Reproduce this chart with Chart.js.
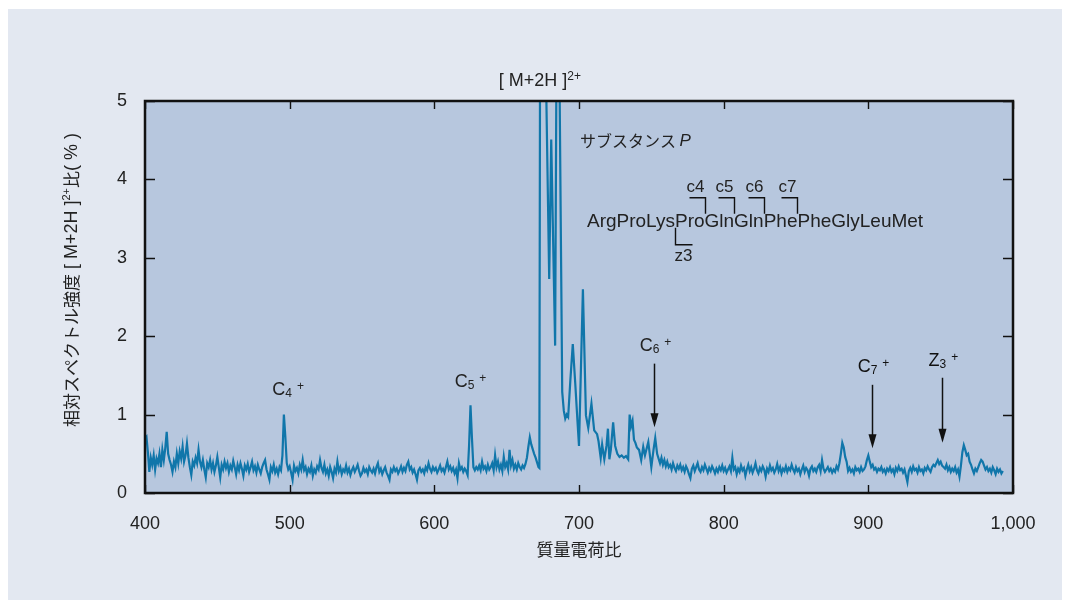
<!DOCTYPE html>
<html>
<head>
<meta charset="utf-8">
<script src="https://cdn.jsdelivr.net/npm/chart.js@4/dist/chart.umd.min.js"></script>
<style>
  html, body { margin: 0; padding: 0; background: #ffffff; }
  #wrap { width: 1070px; height: 609px; }
</style>
</head>
<body>
<div id="wrap"><canvas id="myChart" width="1070" height="609"></canvas></div>
<script>
// m/z 400-499, step 1
const intensity400 = [
  0.70, 0.72, 0.52, 0.27, 0.45, 0.36, 0.48, 0.30, 0.44, 0.38,
  0.50, 0.33, 0.55, 0.42, 0.57, 0.78, 0.50, 0.42, 0.36, 0.27,
  0.40, 0.33, 0.50, 0.38, 0.53, 0.44, 0.59, 0.40, 0.48, 0.63,
  0.45, 0.33, 0.23, 0.40, 0.35, 0.45, 0.38, 0.55, 0.40, 0.33,
  0.42, 0.30, 0.20, 0.38, 0.33, 0.42, 0.30, 0.38, 0.27, 0.35,
  0.46, 0.33, 0.20, 0.36, 0.30, 0.40, 0.32, 0.38, 0.27, 0.35,
  0.30, 0.41, 0.33, 0.24, 0.36, 0.29, 0.38, 0.31, 0.22, 0.35,
  0.30, 0.37, 0.27, 0.33, 0.40, 0.29, 0.34, 0.26, 0.36, 0.30,
  0.25, 0.33, 0.38, 0.42, 0.30, 0.24, 0.17, 0.33, 0.28, 0.36,
  0.26, 0.31, 0.24, 0.33, 0.29, 0.48, 1.00, 0.72, 0.38, 0.30
];
// m/z 500-599
const intensity500 = [
  0.34, 0.26, 0.17, 0.35, 0.28, 0.32, 0.25, 0.36, 0.30, 0.42,
  0.29, 0.33, 0.24, 0.31, 0.27, 0.35, 0.22, 0.30, 0.26, 0.34,
  0.30, 0.42, 0.32, 0.27, 0.36, 0.25, 0.30, 0.22, 0.33, 0.27,
  0.19, 0.31, 0.26, 0.40, 0.28, 0.33, 0.24, 0.30, 0.27, 0.35,
  0.26, 0.31, 0.23, 0.29, 0.33, 0.27, 0.31, 0.36, 0.28, 0.22,
  0.25, 0.32, 0.27, 0.30, 0.24, 0.33, 0.29, 0.26, 0.31, 0.25,
  0.33, 0.38, 0.27, 0.31, 0.24, 0.29, 0.33, 0.26, 0.22, 0.17,
  0.30, 0.27, 0.33, 0.28, 0.31, 0.25, 0.29, 0.34, 0.27, 0.32,
  0.28, 0.36, 0.40, 0.30, 0.33, 0.26, 0.30, 0.24, 0.17, 0.29,
  0.32, 0.27, 0.30, 0.25, 0.33, 0.29, 0.38, 0.31, 0.27, 0.33
];
// m/z 600-669
const intensity600 = [
  0.29, 0.32, 0.26, 0.30, 0.35, 0.28, 0.31, 0.26, 0.33, 0.40,
  0.30, 0.34, 0.28, 0.32, 0.25, 0.30, 0.19, 0.38, 0.30, 0.33,
  0.27, 0.31, 0.28, 0.23, 0.60, 1.12, 0.70, 0.33, 0.29, 0.33,
  0.30, 0.35, 0.29, 0.40, 0.31, 0.34, 0.28, 0.36, 0.30, 0.33,
  0.38, 0.29, 0.48, 0.33, 0.40, 0.30, 0.36, 0.28, 0.46, 0.33,
  0.38, 0.30, 0.55, 0.35, 0.42, 0.31, 0.36, 0.30, 0.38, 0.33,
  0.30, 0.35, 0.32, 0.37, 0.45, 0.59, 0.71, 0.62, 0.56, 0.50
];
// [M+2H]2+ region, uneven sampling
const peakMz = [
  670, 671, 672, 672.6, 673.2, 674.5, 675.8, 676.6, 679.4, 680.8,
  683.5, 684.8, 685.5, 686.2, 688.4, 689.5, 690.5, 691.5, 692.5, 694,
  695.7, 697.4, 699, 700, 702.7, 704.8, 706.4, 708.6, 710.5, 712.5,
  713.5, 715, 716, 717.5, 719, 720, 721, 722, 723.6, 725,
  726.5, 728, 729.5, 731, 732.5, 734, 735, 736, 737, 738,
  739, 740, 741.5, 743, 744.4, 745.6, 747.9, 750, 751.5, 752.7,
  754, 756, 757, 758, 759, 760
];
const peakIntensity = [
  0.45, 0.39, 0.33, 0.32, 7.0, 10.0, 9.0, 6.0, 2.73, 4.51,
  1.88, 7.0, 9.0, 6.0, 1.29, 1.05, 0.95, 1.00, 0.97, 1.43,
  1.90, 1.40, 0.90, 0.60, 2.60, 0.99, 0.83, 1.14, 0.80, 0.75,
  0.66, 0.45, 0.62, 0.43, 0.60, 0.82, 0.43, 0.55, 0.90, 0.60,
  0.50, 0.46, 0.48, 0.45, 0.47, 0.43, 1.00, 0.85, 0.92, 0.68,
  0.64, 0.58, 0.55, 0.42, 0.59, 0.48, 0.65, 0.33, 0.55, 0.70,
  0.50, 0.38, 0.45, 0.36, 0.42, 0.34
];
// m/z 761-993
const intensity761 = [
  0.40, 0.33, 0.36, 0.30, 0.38, 0.32, 0.28, 0.35, 0.31, 0.36,
  0.29, 0.33, 0.27, 0.34, 0.30, 0.24, 0.19, 0.31, 0.35, 0.28,
  0.33, 0.38, 0.30, 0.27, 0.33, 0.29, 0.36, 0.31, 0.26, 0.32,
  0.28, 0.34, 0.30, 0.25, 0.31, 0.27, 0.33, 0.29, 0.35, 0.28,
  0.32, 0.26, 0.30, 0.34, 0.28, 0.45, 0.30, 0.33, 0.24, 0.31,
  0.27, 0.35, 0.29, 0.32, 0.22, 0.30, 0.36, 0.28, 0.33, 0.26,
  0.31, 0.38, 0.29, 0.25, 0.32, 0.28, 0.34, 0.30, 0.21, 0.31,
  0.27, 0.35, 0.29, 0.32, 0.26, 0.30, 0.37, 0.28, 0.33, 0.25,
  0.31, 0.28, 0.34, 0.27, 0.32, 0.29, 0.36, 0.30, 0.26, 0.33,
  0.28, 0.31, 0.24, 0.30, 0.35, 0.27, 0.32, 0.29, 0.22, 0.31,
  0.34, 0.28, 0.31, 0.27, 0.33, 0.36, 0.28, 0.42, 0.31, 0.27,
  0.30, 0.33, 0.28, 0.31, 0.26, 0.30, 0.27, 0.34, 0.30, 0.38,
  0.50, 0.64, 0.58, 0.46, 0.40, 0.28, 0.32, 0.27, 0.30, 0.25,
  0.33, 0.29, 0.31, 0.27, 0.33, 0.28, 0.30, 0.34, 0.42, 0.48,
  0.40, 0.33, 0.36, 0.30, 0.32, 0.27, 0.31, 0.29, 0.33, 0.27,
  0.30, 0.25, 0.31, 0.28, 0.33, 0.27, 0.30, 0.24, 0.32, 0.28,
  0.34, 0.29, 0.31, 0.26, 0.30, 0.22, 0.14, 0.28, 0.32, 0.27,
  0.34, 0.29, 0.31, 0.26, 0.33, 0.28, 0.30, 0.25, 0.32, 0.29,
  0.34, 0.30, 0.27, 0.33, 0.36, 0.34, 0.38, 0.42, 0.37, 0.40,
  0.35, 0.33, 0.31, 0.36, 0.29, 0.33, 0.27, 0.31, 0.28, 0.33,
  0.26, 0.30, 0.21, 0.35, 0.52, 0.61, 0.55, 0.48, 0.50, 0.40,
  0.36, 0.30, 0.25, 0.31, 0.28, 0.33, 0.38, 0.42, 0.40, 0.35,
  0.30, 0.33, 0.28, 0.31, 0.26, 0.33, 0.29, 0.24, 0.31, 0.27,
  0.30, 0.25, 0.28
];

const xTicks = [400, 500, 600, 700, 800, 900, 1000];
const yTicks = [0, 1, 2, 3, 4, 5];

// fragment labels: name, subscript, label x, label baseline y, arrow (or null)
const fragLabels = [
  { main: "C", sub: "4", x: 498.9, y: 1.25, arrow: null },
  { main: "C", sub: "5", x: 625.0, y: 1.35, arrow: null },
  { main: "C", sub: "6", x: 752.9, y: 1.81, arrow: { x: 752.0, from: 1.65, to: 0.84 } },
  { main: "C", sub: "7", x: 903.6, y: 1.54, arrow: { x: 902.5, from: 1.38, to: 0.57 } },
  { main: "Z", sub: "3", x: 951.9, y: 1.62, arrow: { x: 951.1, from: 1.47, to: 0.64 } }
];

const sequence = ["Arg", "Pro", "Lys", "Pro", "Gln", "Gln", "Phe", "Phe", "Gly", "Leu", "Met"];
const cBreaks = [{ name: "c4", after: 4 }, { name: "c5", after: 5 }, { name: "c6", after: 6 }, { name: "c7", after: 7 }];
const zBreak = { name: "z3", after: 3 };

const LATIN = "'Liberation Sans', Arial, sans-serif";
const CJK = "'Noto Sans CJK JP', sans-serif";
const TEXT = "#222222";
const SEQ_FONT = "19px " + LATIN;

function seg(start, vals) {
  return vals.map((v, i) => ({ x: start + i, y: v }));
}

const points = [].concat(
  seg(400, intensity400),
  seg(500, intensity500),
  seg(600, intensity600),
  peakMz.map((m, i) => ({ x: m, y: peakIntensity[i] })),
  seg(761, intensity761)
);

// draw a run of text pieces with own font / offset, centered on cx
function drawParts(ctx, parts, cx, cy) {
  let total = 0;
  parts.forEach((p) => {
    ctx.font = p.font;
    p.w = ctx.measureText(p.t).width;
    total += p.w + (p.gap || 0);
  });
  let x = cx - total / 2;
  parts.forEach((p) => {
    ctx.font = p.font;
    x += p.gap || 0;
    ctx.fillText(p.t, x, cy + (p.dy || 0));
    x += p.w;
  });
}

function arrowDown(ctx, x, y1, y2) {
  ctx.beginPath();
  ctx.moveTo(x, y1);
  ctx.lineTo(x, y2 - 10);
  ctx.lineWidth = 1.5;
  ctx.strokeStyle = "#111";
  ctx.stroke();
  ctx.beginPath();
  ctx.moveTo(x - 4, y2 - 14);
  ctx.lineTo(x + 4, y2 - 14);
  ctx.lineTo(x, y2);
  ctx.closePath();
  ctx.fillStyle = "#111";
  ctx.fill();
}

const backgroundPlugin = {
  id: "bg",
  beforeDraw(chart) {
    const { ctx, chartArea: a } = chart;
    ctx.save();
    ctx.fillStyle = "#ffffff";
    ctx.fillRect(0, 0, chart.width, chart.height);
    ctx.fillStyle = "#e3e8f1";
    ctx.fillRect(8, 9, 1054, 591);
    ctx.fillStyle = "#b7c7de";
    ctx.fillRect(a.left, a.top, a.right - a.left, a.bottom - a.top);
    ctx.restore();
  }
};

const annotationPlugin = {
  id: "notes",
  afterDraw(chart) {
    const { ctx, chartArea: a } = chart;
    const xs = chart.scales.x, ys = chart.scales.y;
    ctx.save();

    // frame + inward ticks
    ctx.strokeStyle = "#111";
    ctx.lineWidth = 1.4;
    xTicks.forEach((v) => {
      const px = Math.round(xs.getPixelForValue(v)) + 0.5;
      ctx.beginPath();
      ctx.moveTo(px, a.bottom); ctx.lineTo(px, a.bottom - 8);
      ctx.moveTo(px, a.top); ctx.lineTo(px, a.top + 8);
      ctx.stroke();
    });
    yTicks.forEach((v) => {
      const py = Math.round(ys.getPixelForValue(v)) + 0.5;
      ctx.beginPath();
      ctx.moveTo(a.left, py); ctx.lineTo(a.left + 10, py);
      ctx.moveTo(a.right, py); ctx.lineTo(a.right - 10, py);
      ctx.stroke();
    });
    ctx.lineWidth = 2.5;
    ctx.strokeRect(a.left, a.top, a.right - a.left, a.bottom - a.top);

    ctx.fillStyle = TEXT;
    ctx.textBaseline = "alphabetic";
    ctx.textAlign = "left";

    // title over the precursor peak
    drawParts(ctx, [
      { t: "[ M+2H ]", font: "18px " + LATIN },
      { t: "2+", font: "12px " + LATIN, dy: -6 }
    ], xs.getPixelForValue(673), a.top - 15);

    // fragment labels and arrows
    fragLabels.forEach((f) => {
      drawParts(ctx, [
        { t: f.main, font: "18px " + LATIN },
        { t: f.sub, font: "12px " + LATIN, dy: 2 },
        { t: "+", font: "12px " + LATIN, dy: -5, gap: 5 }
      ], xs.getPixelForValue(f.x), ys.getPixelForValue(f.y));
      if (f.arrow) {
        arrowDown(ctx, Math.round(xs.getPixelForValue(f.arrow.x)) + 0.5,
          ys.getPixelForValue(f.arrow.from), ys.getPixelForValue(f.arrow.to));
      }
    });

    // substance P
    ctx.fillStyle = TEXT;
    ctx.textBaseline = "middle";
    const sx = xs.getPixelForValue(700.7), sy = ys.getPixelForValue(4.49);
    ctx.font = "16px " + CJK;
    ctx.fillText("サブスタンス", sx, sy);
    const kw = ctx.measureText("サブスタンス ").width;
    ctx.font = "italic 17px " + LATIN;
    ctx.fillText("P", sx + kw, sy);

    const qx = xs.getPixelForValue(705.5), qy = ys.getPixelForValue(3.46);
    ctx.font = SEQ_FONT;
    ctx.fillText(sequence.join(""), qx, qy);
    ctx.strokeStyle = "#111";
    ctx.lineWidth = 1.4;
    const breakX = (n) => {
      ctx.font = SEQ_FONT;
      return Math.round(qx + ctx.measureText(sequence.slice(0, n).join("")).width) + 0.5;
    };
    cBreaks.forEach((b) => {
      const bx = breakX(b.after);
      ctx.beginPath();
      ctx.moveTo(bx - 16, qy - 24);
      ctx.lineTo(bx, qy - 24);
      ctx.lineTo(bx, qy - 8);
      ctx.stroke();
    });
    const zx = breakX(zBreak.after);
    ctx.beginPath();
    ctx.moveTo(zx, qy + 6);
    ctx.lineTo(zx, qy + 23);
    ctx.lineTo(zx + 17, qy + 23);
    ctx.stroke();
    ctx.textAlign = "center";
    cBreaks.forEach((b) => {
      const bx = breakX(b.after);
      ctx.font = "17px " + LATIN;
      ctx.fillText(b.name, bx - 10, qy - 34);
    });
    ctx.font = "17px " + LATIN;
    ctx.fillText(zBreak.name, zx + 8, qy + 35);

    // axis titles
    ctx.textBaseline = "middle";
    ctx.font = "17px " + CJK;
    ctx.textAlign = "center";
    ctx.fillText("質量電荷比", (a.left + a.right) / 2, 550);

    ctx.textAlign = "left";
    ctx.translate(72, 280);
    ctx.rotate(-Math.PI / 2);
    drawParts(ctx, [
      { t: "相対スペクトル強度", font: "17px " + CJK },
      { t: " [ M+2H ]", font: "18px " + LATIN },
      { t: "2+", font: "11px " + LATIN, dy: -5 },
      { t: "比", font: "17px " + CJK },
      { t: "( % )", font: "18px " + LATIN }
    ], 0, 0);
    ctx.restore();
  }
};

const config = {
  type: "line",
  data: {
    datasets: [{
      data: points,
      borderColor: "rgb(16, 118, 170)",
      borderWidth: 2.2,
      pointRadius: 0,
      tension: 0,
      fill: false
    }]
  },
  options: {
    responsive: false,
    animation: false,
    devicePixelRatio: 1,
    layout: { padding: { left: 0, top: 101, right: 57, bottom: 0 } },
    scales: {
      x: {
        type: "linear",
        min: 400,
        max: 1000,
        afterFit(scale) { scale.height = 116; },
        afterBuildTicks(scale) { scale.ticks = xTicks.map((v) => ({ value: v })); },
        grid: { display: false },
        border: { display: false },
        ticks: {
          color: TEXT,
          padding: 12,
          maxRotation: 0,
          font: { size: 18, family: LATIN },
          callback: (v) => v.toLocaleString("en-US")
        }
      },
      y: {
        min: 0,
        max: 5,
        afterFit(scale) { scale.width = 145; },
        afterBuildTicks(scale) { scale.ticks = yTicks.map((v) => ({ value: v })); },
        grid: { display: false },
        border: { display: false },
        ticks: {
          color: TEXT,
          padding: 10,
          font: { size: 18, family: LATIN }
        }
      }
    },
    plugins: {
      legend: { display: false },
      tooltip: { enabled: false }
    }
  },
  plugins: [backgroundPlugin, annotationPlugin]
};

const myChart = new Chart(document.getElementById("myChart"), config);
</script>
</body>
</html>
